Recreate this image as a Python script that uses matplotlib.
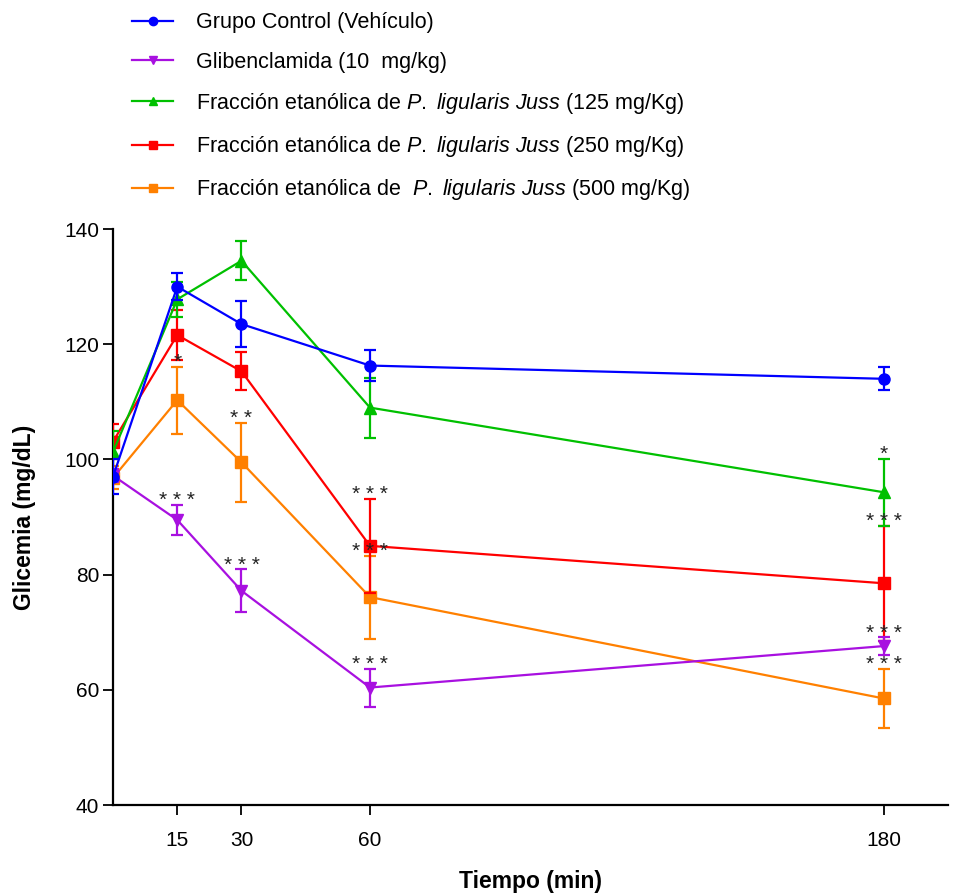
import matplotlib
matplotlib.use('Agg')
import matplotlib.pyplot as plt
from matplotlib.lines import Line2D

plt.rcParams['font.family'] = ['Liberation Sans', 'DejaVu Sans']
plt.rcParams['mathtext.fontset'] = 'custom'
plt.rcParams['mathtext.it'] = 'Liberation Sans:italic'
plt.rcParams['mathtext.rm'] = 'Liberation Sans'

# time points (min)
tiempo = [0, 15, 30, 60, 180]

# mean glycemia (mg/dL) and SEM for each group
control = [97.0, 130.0, 123.5, 116.3, 114.0]
control_sem = [3.0, 2.4, 4.0, 2.7, 2.0]

gliben = [97.2, 89.5, 77.2, 60.4, 67.6]
gliben_sem = [1.2, 2.6, 3.7, 3.3, 1.5]

f125 = [101.3, 127.8, 134.5, 109.0, 94.3]
f125_sem = [3.7, 3.0, 3.4, 5.2, 5.8]

f250 = [103.1, 121.6, 115.3, 85.0, 78.5]
f250_sem = [3.0, 4.3, 3.3, 8.2, 10.0]

f500 = [96.8, 110.3, 99.5, 76.1, 58.5]
f500_sem = [2.0, 5.8, 6.9, 7.2, 5.2]

# significance marks per point
sig_gliben = ['', '***', '***', '***', '***']
sig_f125 = ['', '', '', '', '*']
sig_f250 = ['', '', '', '***', '***']
sig_f500 = ['', '*', '**', '***', '***']

labels = [
    'Grupo Control (Vehículo)',
    'Glibenclamida (10  mg/kg)',
    r'Fracción etanólica de $\it{P.\ ligularis\ Juss}$ (125 mg/Kg)',
    r'Fracción etanólica de $\it{P.\ ligularis\ Juss}$ (250 mg/Kg)',
    r'Fracción etanólica de  $\it{P.\ ligularis\ Juss}$ (500 mg/Kg)',
]

fig = plt.figure(figsize=(9.61, 8.93), dpi=100)
ax = fig.add_axes([0.1176, 0.0985, 0.869, 0.645])

series = [
    (control, control_sem, '#0000FF', 'o', labels[0], None),
    (gliben, gliben_sem, '#A810E0', 'v', labels[1], sig_gliben),
    (f125, f125_sem, '#00C000', '^', labels[2], sig_f125),
    (f250, f250_sem, '#FF0000', 's', labels[3], sig_f250),
    (f500, f500_sem, '#FF8000', 's', labels[4], sig_f500),
]

handles = []
z = 10
for vals, sem, col, mk, lab, sig in series:
    ax.errorbar(tiempo, vals, yerr=sem, color=col, marker=mk, markersize=8,
                linewidth=1.6, elinewidth=1.6, capsize=4.5, capthick=1.6,
                zorder=z)
    z -= 1
    handles.append(Line2D([], [], color=col, marker=mk, markersize=6,
                          linewidth=1.6, label=lab))
    if sig:
        for t, v, s, m in zip(tiempo, vals, sem, sig):
            if m:
                ax.annotate(' '.join(m), (t, v + s), xytext=(0, 3),
                            textcoords='offset points', ha='center', va='center',
                            fontsize=15, color='#222222', zorder=20)

ax.set_xlim(0, 195)
ax.set_ylim(40, 140)
ax.set_xticks([15, 30, 60, 180])
ax.set_yticks([40, 60, 80, 100, 120, 140])
ax.spines['top'].set_visible(False)
ax.spines['right'].set_visible(False)
ax.spines['left'].set_linewidth(1.6)
ax.spines['bottom'].set_linewidth(1.6)
ax.tick_params(axis='x', length=7, width=1.3, pad=12, labelsize=15)
ax.tick_params(axis='y', length=7, width=1.3, pad=3, labelsize=15)

ax.set_xlabel('Tiempo (min)', fontsize=16.5, fontweight='bold', labelpad=14)
ax.set_ylabel('Glicemia (mg/dL)', fontsize=16.5, fontweight='bold', labelpad=20)

ax.legend(handles=handles, loc='upper left', bbox_to_anchor=(0.0, 1.41),
          frameon=False, fontsize=15.5, handlelength=1.9, handletextpad=1.05,
          labelspacing=0.85)

fig.savefig('out.png', dpi=100)
